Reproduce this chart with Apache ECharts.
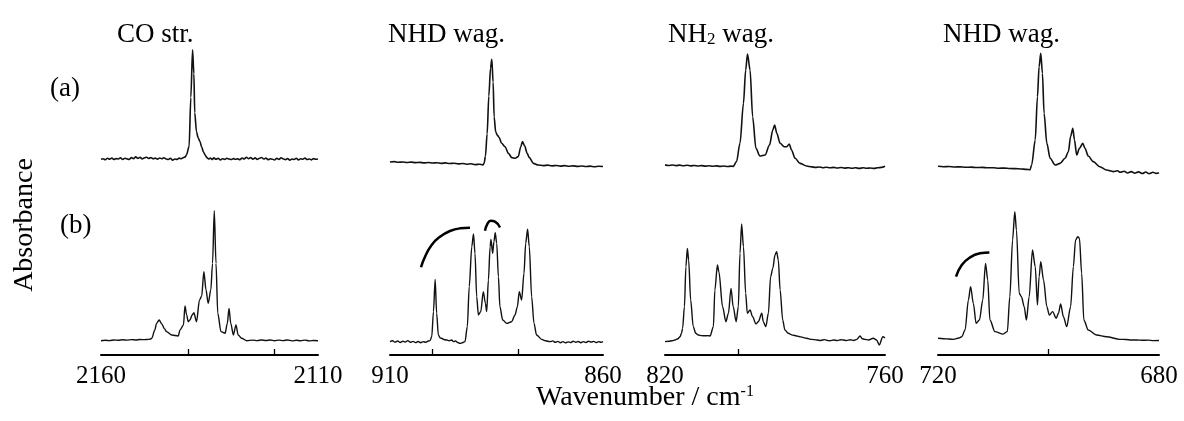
<!DOCTYPE html>
<html>
<head>
<meta charset="utf-8">
<title>IR spectra</title>
<script src="https://cdn.jsdelivr.net/npm/echarts@6/dist/echarts.min.js"></script>
<style>
  html, body { margin: 0; padding: 0; background: #fff; }
  #chart { width: 1184px; height: 421px; }
</style>
</head>
<body>
<div id="chart"></div>
<script>
// wavenumber range of each column (left end, right end) and the inner ticks
const ranges = [[2160, 2110], [910, 860], [820, 760], [720, 680]]
const innerTicks = [[2140, 2120], [900, 880], [800], [700]]
const titles = ['CO str.', 'NHD wag.', '{n|NH}{sub|2}{n| wag.}', 'NHD wag.']

// row (a) spectra: [wavenumber, absorbance]
const coA = [
  [2160, 0.148], [2159.5, 0.152], [2159, 0.145], [2158.5, 0.155], [2158, 0.149], [2157.5, 0.156], [2157, 0.147],
  [2156.5, 0.153], [2156, 0.150], [2155.5, 0.158], [2155, 0.146], [2154.5, 0.155], [2154, 0.151], [2153.5, 0.147],
  [2153, 0.160], [2152.5, 0.152], [2152, 0.165], [2151.5, 0.155], [2151, 0.162], [2150.5, 0.150], [2150, 0.158],
  [2149.5, 0.163], [2149, 0.154], [2148.5, 0.160], [2148, 0.151], [2147.5, 0.156], [2147, 0.149], [2146.5, 0.157],
  [2146, 0.152], [2145.5, 0.159], [2145, 0.150], [2144.5, 0.146], [2144, 0.155], [2143.5, 0.141], [2143, 0.150],
  [2142.5, 0.147], [2142, 0.156], [2141.5, 0.152], [2141, 0.160], [2140.6, 0.165], [2140.3, 0.180], [2139.7, 0.240],
  [2139.3, 0.590], [2138.9, 0.930], [2138.6, 0.760], [2138.4, 0.480], [2138.0, 0.345], [2137.6, 0.300],
  [2137.2, 0.275], [2136.8, 0.235], [2136.4, 0.200], [2136, 0.178], [2135.6, 0.160], [2135.2, 0.150],
  [2134.8, 0.157], [2134.4, 0.146], [2134, 0.158], [2133.5, 0.148], [2133, 0.155], [2132.5, 0.144], [2132, 0.152],
  [2131.5, 0.147], [2131, 0.155], [2130.5, 0.150], [2130, 0.146], [2129.5, 0.153], [2129, 0.148], [2128.5, 0.151],
  [2128, 0.145], [2127.5, 0.157], [2127, 0.150], [2126.5, 0.162], [2126, 0.152], [2125.5, 0.160], [2125, 0.149],
  [2124.5, 0.158], [2124, 0.147], [2123.5, 0.155], [2123, 0.161], [2122.5, 0.150], [2122, 0.156], [2121.5, 0.145],
  [2121, 0.152], [2120.5, 0.148], [2120, 0.143], [2119.5, 0.155], [2119, 0.147], [2118.5, 0.158], [2118, 0.150],
  [2117.5, 0.145], [2117, 0.153], [2116.5, 0.142], [2116, 0.150], [2115.5, 0.146], [2115, 0.155], [2114.5, 0.144],
  [2114, 0.152], [2113.5, 0.148], [2113, 0.156], [2112.5, 0.146], [2112, 0.150], [2111.5, 0.144], [2111, 0.153],
  [2110.5, 0.148], [2110, 0.150]
]
const nhdA = [
  [910, 0.128], [909, 0.131], [908, 0.127], [907, 0.129], [906, 0.125], [905, 0.128], [904, 0.124], [903, 0.126],
  [902, 0.122], [901, 0.125], [900, 0.121], [899, 0.123], [898, 0.119], [897, 0.122], [896, 0.118], [895, 0.120],
  [894, 0.115], [893, 0.118], [892, 0.113], [891, 0.116], [890, 0.110], [889, 0.113], [888.2, 0.108], [887.9, 0.120],
  [887.6, 0.170], [887.2, 0.330], [886.8, 0.600], [886.4, 0.800], [886.1, 0.862], [885.8, 0.700], [885.55, 0.450],
  [885.2, 0.345], [884.8, 0.320], [884.4, 0.305], [883.8, 0.262], [883, 0.238], [882.2, 0.190], [881.4, 0.160],
  [880.6, 0.155], [879.9, 0.167], [879.3, 0.238], [878.9, 0.274], [878.4, 0.245], [877.8, 0.190], [877.3, 0.160],
  [876.35, 0.119], [875.2, 0.107], [874, 0.103], [873, 0.106], [872, 0.101], [871, 0.104], [870, 0.099],
  [869, 0.103], [868, 0.098], [867, 0.101], [866, 0.097], [865, 0.100], [864, 0.096], [863, 0.099], [862, 0.095],
  [861, 0.098], [860, 0.096]
]
const nh2A = [
  [820, 0.108], [819, 0.104], [818, 0.107], [817, 0.103], [816, 0.106], [815, 0.102], [814, 0.105], [813, 0.101],
  [812, 0.104], [811, 0.100], [810, 0.103], [809, 0.099], [808, 0.102], [807, 0.098], [806, 0.101], [805, 0.097],
  [804, 0.100], [803, 0.096], [802, 0.099], [801.4, 0.097], [800.5, 0.131], [799.55, 0.262], [798.6, 0.548],
  [798, 0.786], [797.5, 0.900], [796.8, 0.786], [796.1, 0.452], [795.2, 0.226], [794.1, 0.171], [792.7, 0.179],
  [791.5, 0.250], [790.6, 0.357], [790.1, 0.393], [789.5, 0.333], [788.6, 0.262], [787.5, 0.238], [786.8, 0.238],
  [786.1, 0.257], [785.5, 0.214], [784.5, 0.155], [783.2, 0.119], [781.4, 0.100], [780, 0.094], [779, 0.090],
  [778, 0.093], [777, 0.088], [776, 0.091], [775, 0.087], [774, 0.090], [773, 0.086], [772, 0.089], [771, 0.085],
  [770, 0.088], [769, 0.084], [768, 0.087], [767, 0.083], [766, 0.087], [765, 0.084], [764, 0.086], [763, 0.083],
  [762, 0.087], [761, 0.090], [760, 0.098]
]
const nhd2A = [
  [720, 0.098], [719, 0.095], [718, 0.096], [717, 0.093], [716, 0.094], [715, 0.091], [714, 0.092], [713, 0.089],
  [712, 0.090], [711, 0.087], [710, 0.087], [709, 0.084], [708, 0.085], [707, 0.082], [706, 0.081], [705, 0.079],
  [704, 0.076], [703.35, 0.073], [703.05, 0.107], [702.4, 0.286], [702, 0.595], [701.7, 0.810], [701.4, 0.905],
  [701.1, 0.762], [700.8, 0.476], [700.3, 0.262], [699.7, 0.155], [698.8, 0.107], [697.9, 0.119], [697, 0.155],
  [696.4, 0.202], [696, 0.310], [695.6, 0.369], [695.3, 0.286], [694.9, 0.179], [694.4, 0.226], [693.8, 0.262],
  [693.4, 0.226], [692.8, 0.171], [691.9, 0.131], [690.7, 0.095], [689.5, 0.071], [688.3, 0.060], [687.5, 0.066],
  [687, 0.055], [686.3, 0.062], [685.7, 0.050], [685, 0.060], [684.4, 0.048], [683.7, 0.058], [683, 0.046],
  [682.4, 0.057], [681.8, 0.045], [681.1, 0.055], [680.5, 0.047], [680, 0.052]
]

// row (b) spectra
const coB = [
  [2160, 0.092], [2159, 0.095], [2158, 0.093], [2157, 0.097], [2156, 0.095], [2155, 0.098], [2154, 0.096],
  [2153, 0.099], [2152, 0.097], [2151, 0.100], [2150, 0.099], [2149, 0.101], [2148.6, 0.103], [2148.3, 0.108],
  [2147.6, 0.161], [2147.2, 0.204], [2146.6, 0.226], [2146.0, 0.200], [2145.4, 0.170], [2144.9, 0.151],
  [2143.7, 0.129], [2142.2, 0.123], [2141.8, 0.161], [2141.0, 0.194], [2140.65, 0.316], [2140.26, 0.258],
  [2139.9, 0.215], [2139.5, 0.226], [2139.0, 0.258], [2138.6, 0.273], [2138.0, 0.215], [2137.3, 0.355],
  [2136.8, 0.380], [2136.3, 0.538], [2135.8, 0.419], [2135.3, 0.333], [2134.7, 0.419], [2134.3, 0.591],
  [2133.9, 0.931], [2133.5, 0.591], [2133.1, 0.269], [2132.35, 0.151], [2131.4, 0.140], [2130.9, 0.204],
  [2130.5, 0.301], [2130.1, 0.204], [2129.5, 0.129], [2128.9, 0.194], [2128.4, 0.129], [2127.6, 0.108],
  [2126.4, 0.092], [2125, 0.096], [2124, 0.093], [2123, 0.097], [2122, 0.094], [2121, 0.097], [2120, 0.092],
  [2119, 0.096], [2118, 0.093], [2117, 0.097], [2116, 0.091], [2115, 0.095], [2114, 0.092], [2113, 0.096],
  [2112, 0.091], [2111, 0.094], [2110, 0.092]
]
const nhdB = [
  [910, 0.086], [909.4, 0.092], [908.8, 0.083], [908.2, 0.090], [907.6, 0.081], [907, 0.089], [906.4, 0.084],
  [905.8, 0.093], [905.2, 0.082], [904.6, 0.088], [904, 0.080], [903.4, 0.087], [902.8, 0.079], [902.2, 0.086],
  [901.6, 0.082], [901, 0.090], [900.6, 0.093], [900.2, 0.118], [899.8, 0.280], [899.4, 0.488], [899.05, 0.269],
  [898.65, 0.129], [898.2, 0.110], [897.9, 0.108], [897.4, 0.100], [896.7, 0.097], [896.1, 0.092], [895.5, 0.097],
  [895.1, 0.086], [894.6, 0.090], [894.1, 0.081], [893.6, 0.075], [893, 0.079], [892.4, 0.086], [891.85, 0.183],
  [891.4, 0.441], [890.8, 0.699], [890.4, 0.781], [890.05, 0.656], [889.65, 0.376], [889.25, 0.258], [888.7, 0.280],
  [888.1, 0.409], [887.6, 0.333], [887.3, 0.280], [886.9, 0.484], [886.5, 0.699], [886.3, 0.746], [885.9, 0.656],
  [885.6, 0.731], [885.3, 0.789], [884.95, 0.720], [884.55, 0.505], [884.2, 0.312], [883.55, 0.226], [882.6, 0.204],
  [881.45, 0.215], [880.65, 0.258], [880.1, 0.312], [879.65, 0.409], [879.1, 0.355], [878.55, 0.527],
  [878.15, 0.720], [877.7, 0.811], [877.3, 0.699], [876.75, 0.376], [876.2, 0.204], [875.6, 0.129], [874.4, 0.101],
  [873.5, 0.092], [872.45, 0.086], [871.8, 0.091], [871.2, 0.082], [870.6, 0.088], [870, 0.079], [869.4, 0.086],
  [868.8, 0.078], [868.2, 0.085], [867.6, 0.080], [867, 0.089], [866.4, 0.082], [865.8, 0.087], [865.2, 0.079],
  [864.6, 0.086], [864, 0.081], [863.4, 0.089], [862.8, 0.083], [862.2, 0.088], [861.6, 0.080], [861, 0.086],
  [860.4, 0.082], [860, 0.087]
]
const nh2B = [
  [820, 0.086], [819, 0.089], [818, 0.092], [817.3, 0.097], [816.5, 0.105], [815.9, 0.118], [815.5, 0.140],
  [815.2, 0.172], [814.7, 0.312], [814.3, 0.570], [813.9, 0.688], [813.55, 0.613], [813, 0.355], [812.3, 0.183],
  [811.6, 0.140], [810.9, 0.129], [810, 0.125], [809, 0.124], [808.3, 0.125], [807.7, 0.123], [806.8, 0.183],
  [806.4, 0.419], [805.7, 0.581], [805.3, 0.538], [804.3, 0.312], [803.4, 0.215], [802.7, 0.269], [802, 0.430],
  [801.4, 0.312], [800.6, 0.215], [800, 0.312], [799.55, 0.656], [799.1, 0.845], [798.6, 0.699], [798, 0.398],
  [797.55, 0.269], [796.8, 0.290], [796.1, 0.247], [795.2, 0.200], [794.55, 0.215], [793.6, 0.269], [793.2, 0.215],
  [792.5, 0.183], [791.8, 0.269], [791.2, 0.505], [790.6, 0.559], [790, 0.645], [789.55, 0.667], [789.1, 0.613],
  [788.6, 0.419], [787.9, 0.226], [787.3, 0.161], [786.4, 0.140], [785.2, 0.128], [784.1, 0.123], [783, 0.117],
  [781.4, 0.108], [780, 0.101], [778.6, 0.097], [777.5, 0.094], [776.5, 0.099], [775.5, 0.093], [775, 0.092],
  [774, 0.097], [773, 0.093], [772, 0.098], [771.4, 0.097], [770.5, 0.093], [769.5, 0.098], [768.5, 0.094],
  [767.7, 0.101], [766.8, 0.123], [766.2, 0.105], [765.5, 0.101], [764.5, 0.097], [763.2, 0.108], [762.3, 0.097],
  [761.55, 0.065], [760.6, 0.118], [760, 0.110]
]
const nhd2B = [
  [720, 0.108], [719, 0.105], [718, 0.103], [717.2, 0.101], [716.2, 0.110], [715.7, 0.118], [715.1, 0.161],
  [714.5, 0.355], [714.1, 0.441], [713.6, 0.333], [713.1, 0.204], [712.5, 0.226], [711.9, 0.355], [711.4, 0.591],
  [711, 0.484], [710.6, 0.226], [709.7, 0.151], [708.2, 0.135], [707.45, 0.151], [707, 0.376], [706.5, 0.742],
  [706.1, 0.925], [705.8, 0.806], [705.3, 0.398], [704.9, 0.376], [704.4, 0.312], [704, 0.226], [703.5, 0.376],
  [702.9, 0.677], [702.4, 0.570], [702, 0.323], [701.7, 0.505], [701.4, 0.602], [700.9, 0.484], [700.3, 0.312],
  [699.85, 0.258], [699.25, 0.280], [698.6, 0.237], [698.2, 0.269], [697.8, 0.329], [697.3, 0.247], [696.7, 0.183],
  [696, 0.312], [695.5, 0.570], [695.1, 0.742], [694.7, 0.763], [694.4, 0.753], [694, 0.527], [693.6, 0.226],
  [692.8, 0.161], [691.3, 0.129], [689.5, 0.118], [687.1, 0.101], [686, 0.100], [685, 0.097], [684, 0.097],
  [683, 0.095], [682, 0.096], [681, 0.093], [680, 0.094]
]

// bracket arcs drawn over the (b) spectra
const arcNhd1 = [[902.72, 0.566], [901.78, 0.634], [900.22, 0.71], [898.26, 0.763], [895.92, 0.8], [893.57, 0.817], [891.22, 0.821]]
const arcNhd2 = [[887.7, 0.802], [887.16, 0.845], [886.36, 0.866], [885.35, 0.86], [884.18, 0.823]]
const arcNhd3 = [[716.74, 0.505], [715.7, 0.581], [714.2, 0.63], [712.4, 0.656], [710.7, 0.662]]

const rowA = [coA, nhdA, nh2A, nhd2A]
const rowB = [coB, nhdB, nh2B, nhd2B]

const serif = "'Liberation Serif', 'Times New Roman', serif"
const colLeft = [101, 390, 665, 938]
const colWidth = [217, 213, 220, 221]

const chart = echarts.init(document.getElementById('chart'), null, {renderer: 'canvas'})

const grid = []
const xAxis = []
const yAxis = []
const series = []

for (let row = 0; row < 2; row++) {
  for (let c = 0; c < 4; c++) {
    const idx = row * 4 + c
    grid.push({
      left: colLeft[c], width: colWidth[c],
      top: row === 0 ? 40 : 200,
      height: row === 0 ? 140 : 155,
      outerBoundsMode: 'none'
    })
    const lo = Math.min(...ranges[c])
    const hi = Math.max(...ranges[c])
    const bottom = row === 1
    xAxis.push({
      gridIndex: idx,
      type: 'value',
      inverse: true,
      min: lo,
      max: hi,
      show: bottom,
      axisLine: {show: bottom, onZero: false, lineStyle: {color: '#000', width: 2}},
      axisTick: {show: bottom, inside: true, length: 6, customValues: innerTicks[c], lineStyle: {color: '#000', width: 1.3}},
      axisLabel: {
        show: bottom, customValues: [hi, lo], fontSize: 25, fontFamily: serif, color: '#000', margin: 9,
        formatter: v => String(v)
      },
      splitLine: {show: false}
    })
    yAxis.push({gridIndex: idx, type: 'value', min: 0, max: 1, show: false})
    series.push({
      type: 'line',
      xAxisIndex: idx,
      yAxisIndex: idx,
      data: (row === 0 ? rowA : rowB)[c],
      showSymbol: false,
      symbol: 'none',
      smooth: 0.3,
      smoothMonotone: 'x',
      lineStyle: {color: '#111', width: row === 0 ? 1.6 : 1.4},
      silent: true
    })
  }
}

// annotation arcs
;[[arcNhd1, 5], [arcNhd2, 5], [arcNhd3, 7]].forEach(([pts, idx]) => {
  series.push({
    type: 'line', xAxisIndex: idx, yAxisIndex: idx, data: pts,
    smooth: true, showSymbol: false, symbol: 'none',
    lineStyle: {color: '#000', width: 2.5}, silent: true
  })
})

const titleX = [117, 388, 668, 943]
const graphic = titles.map((t, i) => ({
  type: 'text', left: titleX[i], top: 21,
  style: {
    text: t, fill: '#000', font: '27px ' + serif,
    rich: {
      n: {fontSize: 27, fontFamily: serif, fill: '#000'},
      sub: {fontSize: 17, fontFamily: serif, fill: '#000', verticalAlign: 'bottom'}
    }
  }
}))
graphic.push(
  {type: 'text', left: 50, top: 75, style: {text: '(a)', fill: '#000', font: '27px ' + serif}},
  {type: 'text', left: 60, top: 212, style: {text: '(b)', fill: '#000', font: '27px ' + serif}},
  {
    type: 'text', x: 25, y: 225, rotation: Math.PI / 2,
    style: {text: 'Absorbance', fill: '#000', font: '28px ' + serif, align: 'center', verticalAlign: 'middle'}
  },
  {
    type: 'text', left: 536, top: 384,
    style: {
      text: '{n|Wavenumber / cm}{s|-1}',
      rich: {
        n: {fontSize: 28, fontFamily: serif, fill: '#000'},
        s: {fontSize: 16, fontFamily: serif, fill: '#000', verticalAlign: 'top'}
      }
    }
  }
)

chart.setOption({
  backgroundColor: '#fff',
  animation: false,
  grid: grid,
  xAxis: xAxis,
  yAxis: yAxis,
  series: series,
  graphic: graphic
})
</script>
</body>
</html>
